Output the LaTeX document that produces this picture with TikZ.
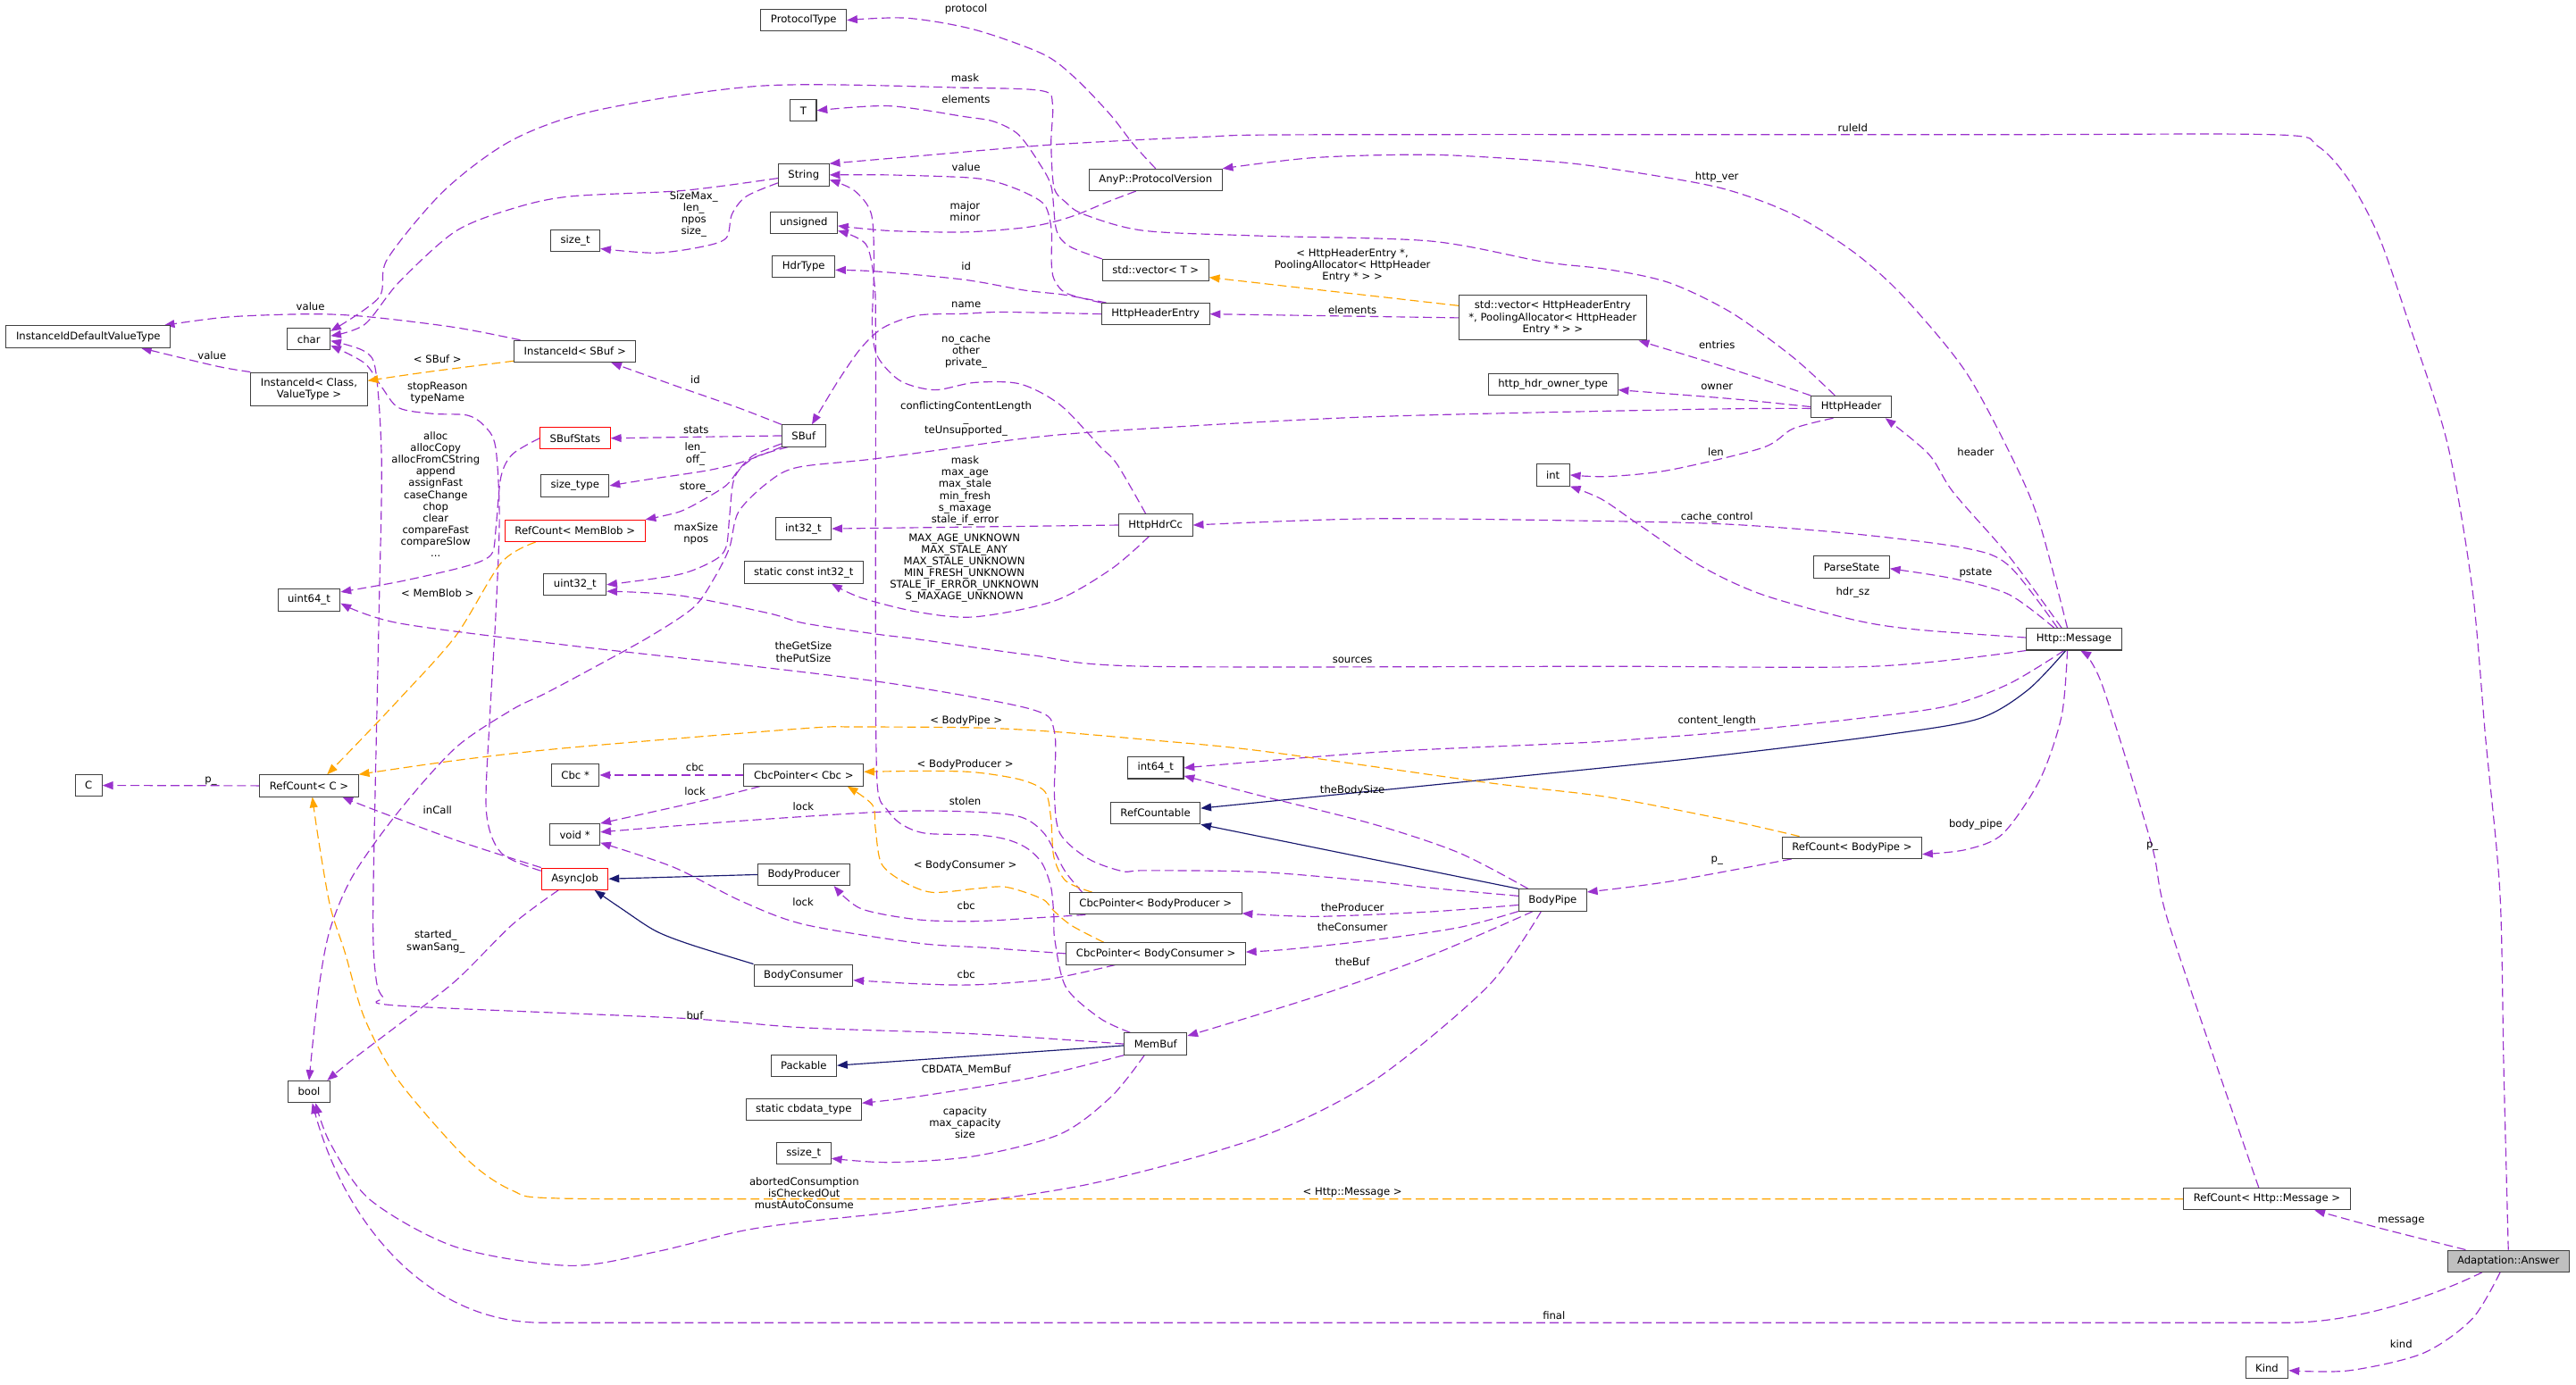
\documentclass[tikz,border=0pt]{standalone}
\usepackage{fontspec}
\setmainfont{DejaVu Sans}
\usetikzlibrary{arrows.meta}
\definecolor{purp}{HTML}{9A32CD}
\definecolor{orng}{HTML}{FFA500}
\definecolor{navyb}{HTML}{191970}
\definecolor{greyf}{HTML}{BFBFBF}
\newcommand{\lblfont}{\fontsize{9}{10.2}\selectfont}
\pgfdeclarelayer{bg}
\pgfsetlayers{bg,main}
\tikzset{
  box/.style={draw=black!75, line width=0.8pt, fill=white, inner xsep=3mm, inner ysep=1.7mm, minimum height=6.6mm, align=center, font=\lblfont},
  rbox/.style={box, draw=red},
  mem/.style={draw=purp, line width=0.9pt, dash pattern=on 2.7mm off 1.35mm, -{Triangle[length=3.2mm,width=2.4mm]}},
  tmpl/.style={mem, draw=orng},
  inh/.style={draw=navyb, line width=0.9pt, -{Triangle[length=3.2mm,width=2.4mm]}},
  lab/.style={font=\lblfont, align=center, inner sep=0pt},
  sm/.style={smooth, tension=0.5}
}
\begin{document}
\begin{tikzpicture}[x=0.5mm,y=-0.5mm]
\useasboundingbox (0,0) rectangle (1568,843);
% ---------------- nodes
\node[box] (ptype) at (489.2,12.3) {ProtocolType};
\node[box] (tT) at (489,67.3) {T};
\node[box] (str) at (489.2,106.5) {String};
\node[box] (uns) at (489.2,135.5) {unsigned};
\node[box] (sizet) at (350.2,146.4) {size\_t};
\node[box] (hdrtype) at (489.2,162.4) {HdrType};
\node[box] (iidvt) at (53.7,205) {InstanceIdDefaultValueType};
\node[box] (chr) at (188,206.5) {char};
\node[box] (isbuf) at (350,213.9) {InstanceId< SBuf >};
\node[box] (icv) at (188.1,236.8) {InstanceId< Class,\\ValueType >};
\node[box] (sbuf) at (489.2,265.3) {SBuf};
\node[rbox] (sbufstats) at (350.1,266.8) {SBufStats};
\node[box] (sizetype) at (350,295.7) {size\_type};
\node[rbox] (rcmb) at (350,323.2) {RefCount< MemBlob >};
\node[box] (u32) at (350,356) {uint32\_t};
\node[box] (u64) at (188.1,365.3) {uint64\_t};
\node[box] (i32) at (489,321.9) {int32\_t};
\node[box] (sci32) at (489.2,348.5) {static const int32\_t};
\node[box] (hdrcc) at (703.4,319.7) {HttpHdrCc};
\node[box] (pv) at (703.4,109.5) {AnyP::ProtocolVersion};
\node[box] (vect) at (703.4,164.5) {std::vector< T >};
\node[box] (hhe) at (703.4,191.2) {HttpHeaderEntry};
\node[box] (vechhe) at (945.1,193.5) {std::vector< HttpHeaderEntry\\ *, PoolingAllocator< HttpHeader\\Entry * > >};
\node[box] (owner) at (945.3,234) {http\_hdr\_owner\_type};
\node[box] (hhdr) at (1126.9,247.7) {HttpHeader};
\node[box] (int) at (945.3,289.2) {int};
\node[box] (pstate) at (1127.1,345.2) {ParseState};
\node[box] (msg) at (1262.4,389.2) {Http::Message};
\node[box] (cC) at (53.9,478.2) {C};
\node[box] (rcC) at (188.1,478.4) {RefCount< C >};
\node[box] (cbcs) at (350.2,471.9) {Cbc *};
\node[box] (cbcp) at (489.2,471.9) {CbcPointer< Cbc >};
\node[box] (voidp) at (349.9,508.2) {void *};
\node[rbox] (ajob) at (349.9,535.1) {AsyncJob};
\node[box] (bprod) at (489.3,532.5) {BodyProducer};
\node[box] (bcons) at (489,593.8) {BodyConsumer};
\node[box] (i64) at (703.4,467.5) {int64\_t};
\node[box] (rcable) at (703.3,495.1) {RefCountable};
\node[box] (cpbp) at (703.4,550.1) {CbcPointer< BodyProducer >};
\node[box] (cpbc) at (703.6,580.6) {CbcPointer< BodyConsumer >};
\node[box] (bpipe) at (945.1,548) {BodyPipe};
\node[box] (rcbp) at (1127.3,516.1) {RefCount< BodyPipe >};
\node[box] (membuf) at (703.4,635.6) {MemBuf};
\node[box] (packable) at (489.2,648.7) {Packable};
\node[box] (scbd) at (489.2,675.6) {static cbdata\_type};
\node[box] (ssize) at (489.2,702.3) {ssize\_t};
\node[box] (bool) at (188.1,664.7) {bool};
\node[box] (rchm) at (1379.9,730) {RefCount< Http::Message >};
\node[box, fill=greyf] (answer) at (1526.8,767.8) {Adaptation::Answer};
\node[box] (kind) at (1379.9,832.8) {Kind};
% ---------------- labels
\node[lab] (l01) at (588,5.8) {protocol};
\node[lab] (l02) at (587.4,47.5) {mask};
\node[lab] (l03) at (588,60.7) {elements};
\node[lab] (l04) at (1127.8,77.6) {ruleId};
\node[lab] (l05) at (588,102) {value};
\node[lab] (l06) at (1045.1,107.8) {http\_ver};
\node[lab] (l07) at (422.3,130.5) {SizeMax\_\\len\_\\npos\\size\_};
\node[lab] (l08) at (587.4,128.5) {major\\minor};
\node[lab] (l09) at (588.1,162.2) {id};
\node[lab] (l10) at (823.2,161.7) {< HttpHeaderEntry *,\\PoolingAllocator< HttpHeader\\Entry * > >};
\node[lab] (l11) at (588.1,185.8) {name};
\node[lab] (l12) at (189,186.7) {value};
\node[lab] (l13) at (823.2,188.5) {elements};
\node[lab] (l14) at (1045.1,210.2) {entries};
\node[lab] (l15) at (588,213.9) {no\_cache\\other\\private\_};
\node[lab] (l16) at (266.3,218.4) {< SBuf >};
\node[lab] (l17) at (129,216.6) {value};
\node[lab] (l18) at (266.3,239.2) {stopReason\\typeName};
\node[lab] (l19) at (423.2,231.4) {id};
\node[lab] (l20) at (1045.1,235.6) {owner};
\node[lab] (l21) at (588,255) {conflictingContentLength\\\_\\teUnsupported\_};
\node[lab] (l22) at (265.2,301) {alloc\\allocCopy\\allocFromCString\\append\\assignFast\\caseChange\\chop\\clear\\compareFast\\compareSlow\\...};
\node[lab] (l23) at (423.7,261.9) {stats};
\node[lab] (l24) at (1044.4,275) {len};
\node[lab] (l25) at (1202.6,275) {header};
\node[lab] (l26) at (423.2,276.4) {len\_\\off\_};
\node[lab] (l27) at (423.2,296.7) {store\_};
\node[lab] (l28) at (587.4,298.7) {mask\\max\_age\\max\_stale\\min\_fresh\\s\_maxage\\stale\_if\_error};
\node[lab] (l29) at (1045.1,314.8) {cache\_control};
\node[lab] (l30) at (423.7,324.8) {maxSize\\npos};
\node[lab] (l31) at (587,345.8) {MAX\_AGE\_UNKNOWN\\MAX\_STALE\_ANY\\MAX\_STALE\_UNKNOWN\\MIN\_FRESH\_UNKNOWN\\STALE\_IF\_ERROR\_UNKNOWN\\S\_MAXAGE\_UNKNOWN};
\node[lab] (l32) at (1202.6,349) {pstate};
\node[lab] (l33) at (1127.8,360.6) {hdr\_sz};
\node[lab] (l34) at (266.3,361) {< MemBlob >};
\node[lab] (l35) at (489,397) {theGetSize\\thePutSize};
\node[lab] (l36) at (823.2,401.8) {sources};
\node[lab] (l37) at (588.1,438.7) {< BodyPipe >};
\node[lab] (l38) at (1045.1,439) {content\_length};
\node[lab] (l39) at (587.5,465.4) {< BodyProducer >};
\node[lab] (l40) at (423,467.2) {cbc};
\node[lab] (l41) at (128.3,475.6) {p\_};
\node[lab] (l42) at (823.2,481.4) {theBodySize};
\node[lab] (l43) at (423,482) {lock};
\node[lab] (l44) at (587.5,487.9) {stolen};
\node[lab] (l45) at (489,491.1) {lock};
\node[lab] (l46) at (266.3,493) {inCall};
\node[lab] (l47) at (1202.6,501.8) {body\_pipe};
\node[lab] (l48) at (1310.1,515.4) {p\_};
\node[lab] (l49) at (1045.1,524.1) {p\_};
\node[lab] (l50) at (587.5,527) {< BodyConsumer >};
\node[lab] (l51) at (488.8,549) {lock};
\node[lab] (l52) at (588.1,551.3) {cbc};
\node[lab] (l53) at (823.2,552.3) {theProducer};
\node[lab] (l54) at (823.2,564.7) {theConsumer};
\node[lab] (l55) at (265.2,573.3) {started\_\\swanSang\_};
\node[lab] (l56) at (823.2,585.7) {theBuf};
\node[lab] (l57) at (588.1,593.3) {cbc};
\node[lab] (l58) at (423,618.1) {buf};
\node[lab] (l59) at (588.1,651.8) {CBDATA\_MemBuf};
\node[lab] (l60) at (587.4,683.6) {capacity\\max\_capacity\\size};
\node[lab] (l61) at (489.5,726.4) {abortedConsumption\\isCheckedOut\\mustAutoConsume};
\node[lab] (l62) at (823.2,725.8) {< Http::Message >};
\node[lab] (l63) at (1461.6,743.2) {message};
\node[lab] (l64) at (945.9,801.1) {final};
\node[lab] (l65) at (1461.6,818.3) {kind};
% ---------------- edges
\begin{pgfonlayer}{bg}
\fill[white] (0,0) rectangle (1568,843);
\draw[mem] plot[sm] coordinates {(pv.north) (690,88) (676,70) (655,48) (635,33) (593,18) (552,11) (ptype.east)};
\draw[mem] plot[sm] coordinates {(vect.north west) (651,150) (643,140) (640,114) (633,100) (620,82) (605,74) (587,71) (541,64.5) (tT.east)};
\draw[mem] plot[sm] coordinates {(answer.north) (1524,650) (1521.7,543.7) (1513,450) (1504.8,358) (1489.7,270) (1467,199) (1448.4,145) (1430,110) (1410.8,89) (1384.5,82) (1200,82) (801,82) (732,83.4) (642,88) (558.6,95) (str.north east)};
\draw[mem] plot[sm] coordinates {([xshift=-2mm]msg.north) (1241.7,319.3) (1226.7,282.7) (1196.6,226.5) (1159,181) (1129,154) (1091.4,130.5) (1046.3,114.2) (978.6,102.4) (940,98) (870.7,94.2) (800,96) (pv.north east)};
\draw[mem] plot[sm] coordinates {(hhe.north west) (649,178.5) (641.6,170) (640,159.5) (640,140) (636,125) (623.4,117) (605.3,110.5) (587,108) (540,106.5) (str.east)};
\draw[mem] plot[sm] coordinates {([xshift=-6mm]pv.south) (674,123) (656,130.5) (641.6,135) (623.4,138.6) (587,141.3) (541.3,140.5) ([yshift=-1mm]uns.east)};
\draw[mem] plot[sm] coordinates {([xshift=-15mm]hhe.north) (647,179.4) (623.4,176.7) (587,170.3) (534,165.3) ([yshift=-1mm]hdrtype.east)};
\draw[mem] plot[sm] coordinates {(hhe.west) (610.6,190) (587,191) (558.6,192) (537.8,199.4) (524,212) (510.1,232) (498,252) ([xshift=2.5mm]sbuf.north)};
\draw[mem] plot[sm] coordinates {([xshift=-3mm]hdrcc.north) (680,282.7) (669.6,271.8) (645.3,246.5) (621,233.8) (593.3,232.9) (569,237.4) (548.2,232) (534.4,217.5) (530.9,199.4) (532,163) (530.4,130.5) (520,116) ([yshift=-1.5mm]str.east)};
\draw[mem] plot[sm] coordinates {([xshift=-5mm]hhdr.north) (1091.4,217.5) (1053.8,190.3) (1016.2,172.2) (978.6,164) (940,159.5) (870.7,146.8) (766.7,143.6) (696,140.4) (659.7,130.5) (648.8,123.2) (641.6,114.2) (639.8,87) (640.7,63.4) (634.3,55.3) (587.2,53.4) (464.6,52.2) (364,67) (312,85.2) (270.4,116) (235.8,157.7) (230.6,181.2) ([yshift=-1mm]chr.north east)};
\draw[mem] plot[sm] coordinates {([yshift=-1mm]str.west) (416,116) (346.8,119.6) (312,127) (277,141) (242.7,172) (222,197.5) ([yshift=1mm]chr.east)};
\draw[mem] plot[sm] coordinates {([yshift=-1mm]ajob.north west) (305.1,519.3) (296,494) (298.2,435.8) (301.6,377.5) (304,315.4) (301.6,272) (294.7,259.2) (284.3,252.8) (263.5,251.9) (242.7,248.3) (232.3,235.6) (221.9,221.1) ([yshift=1.5mm]chr.south east)};
\draw[mem] plot[sm] coordinates {(membuf.west) (593.3,629.5) (489.3,625.7) (416,620) (242.7,612.3) (233,607) (228.8,595) (227.1,552.3) (230.6,377.5) (232.3,282.7) (228.8,226.5) (221.9,213.9) ([yshift=-0.5mm]chr.east)};
\draw[mem] plot[sm] coordinates {(sbufstats.west) (312,276.5) (305,290) (302,320) (300,336) (293,341.6) (277.4,346.4) (242.7,354.2) ([yshift=-1mm]u64.north east)};
\draw[mem] plot[sm] coordinates {([xshift=2mm]isbuf.north west) (277.4,199.4) (225.4,193) (190.7,191.2) (138.7,193) ([xshift=-2mm]iidvt.north east)};
\draw[mem] plot[sm] coordinates {(icv.north west) (131.7,222.9) ([xshift=-9mm]iidvt.south east)};
\draw[tmpl] plot[sm] coordinates {([yshift=0.5mm]isbuf.south west) (260,226.5) ([yshift=2.5mm]icv.east)};
\draw[mem] plot[sm] coordinates {(sbuf.north west) (449.5,248.3) (413.2,235.6) ([xshift=11mm]isbuf.south)};
\draw[mem] (sbuf.west) -- (sbufstats.east);
\draw[mem] plot[sm] coordinates {(sbuf.south west) (453.1,280.9) (431.4,286.3) (395.1,291.8) (sizetype.east)};
\draw[mem] plot[sm] coordinates {([yshift=1mm]sbuf.south west) (458.5,277.3) (449.5,286.3) (442.2,295.4) (427.7,304.5) (413.2,311.7) (rcmb.north east)};
\draw[mem] plot[sm] coordinates {([xshift=2mm]sbuf.south west) (460.4,278) (450,286) (446,295) (444,315) (442,333) (435,341) (413.2,349.8) (u32.east)};
\draw[mem] plot[sm] coordinates {(msg.south west) (1140.2,405.7) (978.6,405.7) (697.3,405.7) (628,398.9) (558.6,389.2) (532.8,386) (489.3,379.4) (467.6,373.3) (413.2,362.5) ([yshift=-2mm]u32.east)};
\draw[mem] (hdrcc.west) -- (i32.east);
\draw[mem] plot[sm] coordinates {([xshift=-2mm]hdrcc.south) (676.5,346.4) (641.8,365.9) (593.3,375.6) (558.6,372.6) (524,363.9) ([xshift=8.5mm]sci32.south)};
\draw[mem] plot[sm] coordinates {([xshift=-5.5mm]hhdr.south) (1091.4,261) (1072.6,272.7) (1016.2,286.2) (978.6,290.1) (int.east)};
\draw[mem] plot[sm] coordinates {(hhdr.west) (1053.8,242.8) ([yshift=-1.7mm]owner.east)};
\draw[mem] plot[sm] coordinates {(hhdr.north west) (1053.8,224.7) ([xshift=-2.5mm]vechhe.south east)};
\draw[mem] (vechhe.west) -- (hhe.east);
\draw[tmpl] ([yshift=3.7mm]vechhe.west) -- ([yshift=-2.2mm]vect.east);
\draw[mem] plot[sm] coordinates {([xshift=-3.75mm]msg.north) (1222.9,338.7) (1189,299.8) (1174,276.5) ([xshift=-2mm]hhdr.south east)};
\draw[mem] plot[sm] coordinates {([xshift=-5mm]msg.north) (1222.9,344.5) (1196.6,333.8) (1129,325.1) (1053.8,319.3) (978.6,317.3) (836,315.8) (hdrcc.east)};
\draw[mem] plot[sm] coordinates {([xshift=-6mm]msg.north) (1222.9,362) (1189,352.3) ([yshift=-0.5mm]pstate.east)};
\draw[mem] plot[sm] coordinates {([yshift=0.5mm]msg.west) (1166.5,383.3) (1128.9,377.5) (1072.6,362) (1035,344.5) (997.4,319.3) (975,304) (int.south east)};
\draw[mem] plot[sm] coordinates {([xshift=-3mm]msg.south) (1222.9,416.3) (1185.3,429.9) (1129,437.7) (1053.8,445.5) (978.6,451.3) (940,453.2) (836,458.1) (i64.east)};
\draw[inh] plot[sm] coordinates {([xshift=-2.5mm]msg.south) (1234.2,420.2) (1204.1,437.7) (1147.7,447.4) (1053.8,459.1) (978.6,467.2) ([yshift=1.5mm]rcable.east)};
\draw[mem] plot[sm] coordinates {([xshift=-2mm]msg.south) (1254.9,435.8) (1241.7,474.6) (1219.1,507.6) (1196.6,517.3) ([yshift=-2mm]rcbp.east)};
\draw[mem] plot[sm] coordinates {([xshift=-2.5mm]rchm.north) (1320.6,563.9) (1309.4,513.4) (1279.3,416.3) ([xshift=2mm]msg.south)};
\draw[mem] plot[sm] coordinates {([xshift=-13mm]answer.north) (1448.4,747.7) ([xshift=-11mm]rchm.south east)};
\draw[mem] ([xshift=-8mm]answer.south) .. controls (1490,785) and (1440,805.3) .. (1392,805.3) -- (330,805.3) .. controls (260,805.3) and (210,745) .. ([xshift=1mm]bool.south);
\draw[mem] plot[sm] coordinates {([xshift=-2.5mm]answer.south) (1504.8,803) (1474.7,824) (1429.6,834.5) ([yshift=-0.8mm]kind.east)};
\draw[tmpl] plot[sm] coordinates {(rchm.west) (978,730) (489.3,730) (339.8,729.6) (312,724.9) (284.3,705.8) (242.7,658.1) (221.9,620) (210,580) (201.1,552.3) (194.2,513.4) ([xshift=1mm]rcC.south)};
\draw[tmpl] plot[sm] coordinates {([xshift=-16mm]rcbp.north) (1053.8,499.8) (978.6,485.3) (905.3,476.5) (766.7,457.1) (697.3,450.3) (641.5,445.5) (594.4,443.1) (521.9,442.6) (489.3,443.5) (346.7,455.2) (277.4,463) (rcC.north east)};
\draw[tmpl] plot[sm] coordinates {([xshift=-12mm]rcmb.south) (305.1,342.6) (277.4,387.2) (242.7,426) (215,455.2) ([xshift=5.5mm]rcC.north)};
\draw[mem] (rcC.west) -- (cC.east);
\draw[mem] plot[sm] coordinates {(ajob.north west) (277.4,511.5) (225.4,492.1) ([xshift=-5mm]rcC.south east)};
\draw[mem] plot[sm] coordinates {([xshift=-5mm]ajob.south) (312,562.8) (277.4,597.1) (242.7,623.8) (215,644.8) ([xshift=-1mm]bool.north east)};
\draw[mem] (cbcp.west) -- (cbcs.east);
\draw[mem] plot[sm] coordinates {([xshift=5mm]cbcp.south west) (433.4,486.2) (398.7,494) (voidp.north east)};
\draw[mem] plot[sm] coordinates {([xshift=4mm]cpbp.north west) (648,530) (636,508) (621.6,497.5) (594.4,494.4) (543.6,494) (450.7,499.8) ([yshift=0.8mm]voidp.east)};
\draw[mem] plot[sm] coordinates {([xshift=5mm]cpbp.south west) (628,559) (593.3,560.9) (558.6,559.9) (524,553.2) ([xshift=-5mm]bprod.south east)};
\draw[mem] plot[sm] coordinates {([xshift=15mm]cpbc.south west) (638.4,596.1) (593.3,599.6) (558.6,599) ([yshift=-1.5mm]bcons.east)};
\draw[tmpl] plot[sm] coordinates {([xshift=7mm]cpbp.north west) (648.8,536.4) (641.5,521.9) (639.7,498.4) (636.1,482.1) (621.6,474.8) (594.4,470.3) (567.2,469.4) ([yshift=1mm]cbcp.east)};
\draw[tmpl] plot[sm] coordinates {([xshift=11.5mm]cpbc.north west) (652.4,563.6) (641.5,554.6) (634.3,547.3) (612.5,540.1) (594.4,541) (567.2,543.3) (549.1,536.4) (536.4,525.6) (532.8,503.8) (531,490) ([xshift=-5mm]cbcp.south east)};
\draw[mem] plot[sm] coordinates {(cpbc.west) (600,577) (558.6,574.2) (489.3,562.8) (450.7,548.4) (410,528) ([yshift=1mm]voidp.south east)};
\draw[inh] (bprod.west) -- (ajob.east);
\draw[inh] plot[sm] coordinates {(bcons.north west) (420,575) (398.7,566.6) (378,553) ([xshift=6mm]ajob.south)};
\draw[mem] plot[sm] coordinates {([xshift=3mm]bpipe.north west) (888,519.2) (836,501.8) (766.7,484.3) ([yshift=1mm]i64.south east)};
\draw[inh] (bpipe.north west) -- (rcable.south east);
\draw[mem] plot[sm] coordinates {([yshift=-1.5mm]bpipe.west) (870.7,555.1) (801.3,558) ([yshift=-3mm]cpbp.east)};
\draw[mem] plot[sm] coordinates {(bpipe.south west) (888,564.7) (836,572.3) (784,578) ([yshift=0.5mm]cpbc.east)};
\draw[mem] plot[sm] coordinates {([xshift=-6mm]bpipe.south) (870.7,581.8) (801.3,606.6) ([yshift=-1mm]membuf.north east)};
\draw[mem] plot[sm] coordinates {([xshift=-3.5mm]bpipe.south) (905.3,600.9) (836,658.1) (766.7,692.4) (662.7,721) (558.6,736.3) (489.3,743.9) (450.7,749.6) (400,762) (346.7,770.6) (277.4,759.2) (225.4,730.6) (201.1,696.3) ([xshift=2mm]bool.south)};
\draw[mem] plot[sm] coordinates {([xshift=3mm]rcbp.south west) (1016.2,536.7) ([yshift=-1mm]bpipe.north east)};
\draw[inh] ([yshift=-0.5mm]membuf.west) -- (packable.east);
\draw[mem] plot[sm] coordinates {(membuf.south west) (628,656.2) (558.6,667.6) ([yshift=2mm]scbd.east)};
\draw[mem] plot[sm] coordinates {([xshift=-3.4mm]membuf.south) (676.5,667.6) (645.3,690.5) (593.3,703.9) (541.3,707.7) ([yshift=-1.5mm]ssize.east)};
\draw[mem] plot[sm] coordinates {([yshift=1mm]str.south west) (454.2,119.6) (445.5,130.5) (442,145) (426.4,150.4) (398.7,154) ([yshift=-2.5mm]sizet.east)};
\draw[mem] plot[sm] coordinates {([xshift=2mm]membuf.north west) (669.6,620) (648.8,601) (642,572) (641.5,558) (639.7,540) (634.3,525.6) (625.2,516.5) (612.5,511) (594.4,508.3) (563.6,507.4) (549,502) (540,493) (534,478) (533,400) (533,300) (533,200) (532.2,172) (527,148.6) ([yshift=-2.5mm]uns.east)};
\draw[mem] plot[sm] coordinates {([yshift=-0.5mm]hhdr.west) (1033,249.2) (836,253.7) (697.3,261) (628,266.4) (534.4,279.1) (485.7,284.5) (467.6,293.6) (449.5,311.7) (444,333.5) (435,351.6) (422.3,369.7) (395.1,387.8) (358.9,407.8) (331.7,422.3) (312,431.9) (277.4,455.2) (242.7,494) (215,532.8) (201,565.5) (194.2,600.9) (bool.north)};
\draw[mem] plot[sm] coordinates {([yshift=1.25mm]bpipe.west) (870.7,540.6) (836,536.7) (766.7,530.9) (697.3,530) (683.5,530.5) (662.7,523) (645.3,507.6) (641.8,484.3) (641.8,445.5) (628,431.9) (543.6,416.3) (450.7,404.7) (346.7,393) (242.7,379.4) ([yshift=-1mm]u64.east)};
\end{pgfonlayer}
\end{tikzpicture}
\end{document}
